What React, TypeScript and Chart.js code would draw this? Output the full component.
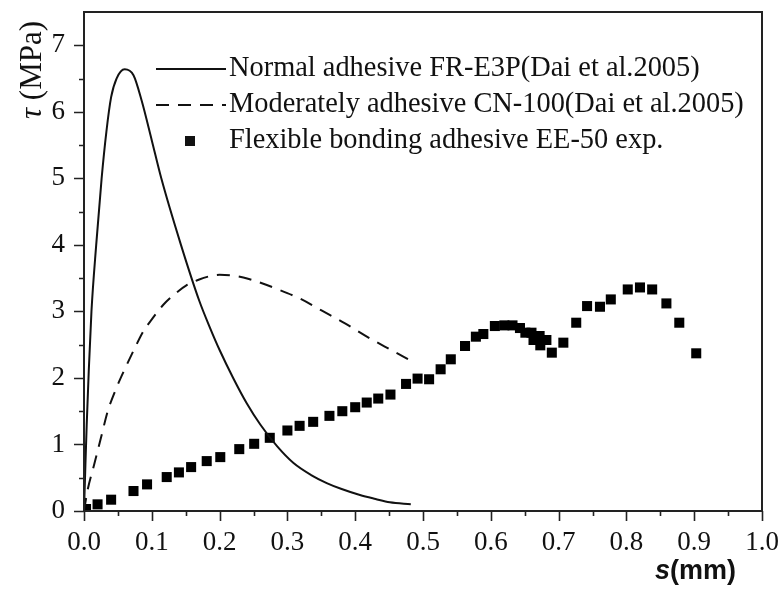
import React, { useEffect, useRef } from "react";
import { Chart, registerables } from "chart.js";

Chart.register(...registerables);

// Normal adhesive FR-E3P (Dai et al. 2005) - solid curve
const normalS = [0, 0.0015, 0.004, 0.007, 0.011, 0.018, 0.026, 0.033, 0.04, 0.048, 0.06, 0.073, 0.085, 0.1, 0.114, 0.143, 0.17, 0.186, 0.2, 0.22, 0.24, 0.26, 0.285, 0.309, 0.335, 0.358, 0.38, 0.407, 0.43, 0.451, 0.482];
const normalTau = [0, 0.5, 1.3, 2.1, 3.0, 4.0, 5.0, 5.7, 6.22, 6.5, 6.64, 6.55, 6.17, 5.57, 5.0, 4.0, 3.16, 2.75, 2.42, 2.0, 1.62, 1.3, 0.97, 0.72, 0.54, 0.42, 0.33, 0.24, 0.18, 0.13, 0.1];

// Moderately adhesive CN-100 (Dai et al. 2005) - dashed curve
const moderateS = [0, 0.005, 0.015, 0.025, 0.035, 0.047, 0.06, 0.075, 0.0875, 0.1, 0.117, 0.135, 0.151, 0.17, 0.186, 0.2, 0.218, 0.235, 0.252, 0.284, 0.319, 0.351, 0.385, 0.419, 0.451, 0.48];
const moderateTau = [0, 0.3, 0.7, 1.1, 1.5, 1.83, 2.13, 2.45, 2.7, 2.88, 3.1, 3.27, 3.39, 3.48, 3.53, 3.55, 3.54, 3.51, 3.46, 3.34, 3.19, 3.01, 2.82, 2.61, 2.43, 2.27];

// Flexible bonding adhesive EE-50 exp. - squares
const flexS = [0.003, 0.02, 0.04, 0.073, 0.093, 0.122, 0.14, 0.158, 0.181, 0.201, 0.229, 0.251, 0.274, 0.3, 0.318, 0.338, 0.362, 0.381, 0.4, 0.417, 0.434, 0.452, 0.475, 0.492, 0.509, 0.526, 0.541, 0.562, 0.578, 0.589, 0.606, 0.62, 0.632, 0.643, 0.651, 0.66, 0.663, 0.672, 0.673, 0.682, 0.69, 0.707, 0.726, 0.742, 0.761, 0.777, 0.802, 0.82, 0.838, 0.859, 0.878, 0.903];
const flexTau = [0.03, 0.1, 0.17, 0.3, 0.4, 0.51, 0.58, 0.66, 0.75, 0.81, 0.93, 1.01, 1.1, 1.21, 1.28, 1.34, 1.43, 1.5, 1.56, 1.63, 1.69, 1.75, 1.91, 1.99, 1.98, 2.13, 2.28, 2.48, 2.62, 2.66, 2.78, 2.79, 2.79, 2.75, 2.68, 2.68, 2.57, 2.63, 2.49, 2.57, 2.38, 2.53, 2.83, 3.08, 3.07, 3.18, 3.33, 3.36, 3.33, 3.12, 2.83, 2.37];

const xTicks = [0, 0.1, 0.2, 0.3, 0.4, 0.5, 0.6, 0.7, 0.8, 0.9, 1.0];
const yTicks = [0, 1, 2, 3, 4, 5, 6, 7];

const legendLabels = [
  "Normal adhesive FR-E3P(Dai et al.2005)",
  "Moderately adhesive CN-100(Dai et al.2005)",
  "Flexible bonding adhesive EE-50 exp.",
];

const SERIF = "'Liberation Serif', 'Times New Roman', serif";
const SANS = "'Liberation Sans', Arial, sans-serif";

const zip = (xs: number[], ys: number[]) => xs.map((x, i) => ({ x, y: ys[i] }));

const framePlugin = {
  id: "frameTicks",
  afterDraw(chart: any) {
    const { ctx, chartArea } = chart;
    const xs = chart.scales.x;
    const ys = chart.scales.y;
    ctx.save();
    ctx.strokeStyle = "#222";
    ctx.lineWidth = 2;
    ctx.strokeRect(chartArea.left, chartArea.top, chartArea.right - chartArea.left, chartArea.bottom - chartArea.top);
    ctx.lineWidth = 1.6;
    ctx.beginPath();
    for (let i = 0; i <= 20; i++) {
      const v = i * 0.05;
      const px = Math.round(xs.getPixelForValue(v)) + 0.5;
      const len = i % 2 === 0 ? 10 : 5;
      ctx.moveTo(px, chartArea.bottom);
      ctx.lineTo(px, chartArea.bottom + len);
    }
    for (let i = 0; i <= 14; i++) {
      const v = i * 0.5;
      const py = Math.round(ys.getPixelForValue(v)) + 0.5;
      const len = i % 2 === 0 ? 10 : 5;
      ctx.moveTo(chartArea.left, py);
      ctx.lineTo(chartArea.left - len, py);
    }
    ctx.stroke();

    // y title
    ctx.fillStyle = "#111";
    ctx.textBaseline = "middle";
    ctx.translate(33, 70);
    ctx.rotate(-Math.PI / 2);
    ctx.font = `italic 31px ${SERIF}`;
    const t1 = "τ";
    const w1 = ctx.measureText(t1).width;
    ctx.font = `31px ${SERIF}`;
    const t2 = " (MPa)";
    const w2 = ctx.measureText(t2).width;
    const start = -(w1 + w2) / 2;
    ctx.font = `italic 31px ${SERIF}`;
    ctx.textAlign = "left";
    ctx.fillText(t1, start, 0);
    ctx.font = `31px ${SERIF}`;
    ctx.fillText(t2, start + w1, 0);
    ctx.setTransform(1, 0, 0, 1, 0, 0);

    // x title
    ctx.textBaseline = "middle";
    ctx.textAlign = "left";
    ctx.font = `italic bold 27px ${SANS}`;
    ctx.fillText("s", 655, 572);
    const ws = ctx.measureText("s").width;
    ctx.font = `bold 27px ${SANS}`;
    ctx.fillText("(mm)", 655 + ws, 572);

    // legend
    const rows = [69, 105, 141];
    ctx.strokeStyle = "#111";
    ctx.lineWidth = 2;
    ctx.beginPath();
    ctx.moveTo(156, rows[0]);
    ctx.lineTo(226, rows[0]);
    ctx.stroke();
    ctx.setLineDash([13, 9]);
    ctx.beginPath();
    ctx.moveTo(156, rows[1]);
    ctx.lineTo(226, rows[1]);
    ctx.stroke();
    ctx.setLineDash([]);
    ctx.fillRect(185, rows[2] - 5, 10, 10);
    ctx.font = `28.4px ${SERIF}`;
    ctx.fillStyle = "#111";
    legendLabels.forEach((l, i) => ctx.fillText(l, 229, rows[i]));
    ctx.restore();
  },
};

export default function App() {
  const ref = useRef<HTMLCanvasElement | null>(null);
  useEffect(() => {
    if (!ref.current) return;
    const chart = new Chart(ref.current, {
      type: "line",
      data: {
        datasets: [
          {
            label: legendLabels[0],
            data: zip(normalS, normalTau),
            borderColor: "#111",
            borderWidth: 2,
            pointRadius: 0,
            tension: 0.4,
            cubicInterpolationMode: "monotone",
            fill: false,
          },
          {
            label: legendLabels[1],
            data: zip(moderateS, moderateTau),
            borderColor: "#111",
            borderWidth: 2,
            borderDash: [13, 9],
            pointRadius: 0,
            tension: 0.4,
            cubicInterpolationMode: "monotone",
            fill: false,
          },
          {
            label: legendLabels[2],
            data: zip(flexS, flexTau),
            showLine: false,
            pointStyle: "rect",
            pointRadius: 7.1,
            pointBorderWidth: 0,
            pointBackgroundColor: "#000",
            borderColor: "#000",
          },
        ],
      } as any,
      options: {
        responsive: false,
        animation: false,
        devicePixelRatio: 1,
        layout: { padding: { top: 12, right: 20, left: 0, bottom: 0 } },
        plugins: { legend: { display: false }, tooltip: { enabled: false } },
        scales: {
          x: {
            type: "linear",
            min: 0,
            max: 1,
            grid: { display: false, drawTicks: false },
            border: { display: false },
            afterBuildTicks: (s: any) => {
              s.ticks = xTicks.map((v) => ({ value: v }));
            },
            afterFit: (s: any) => {
              s.height = 91;
              s.paddingLeft = 0;
              s.paddingRight = 0;
            },
            ticks: {
              padding: 16,
              color: "#111",
              font: { family: SERIF, size: 27 },
              callback: (v: any) => Number(v).toFixed(1),
            },
          },
          y: {
            type: "linear",
            min: 0,
            max: 7.5,
            grid: { display: false, drawTicks: false },
            border: { display: false },
            afterBuildTicks: (s: any) => {
              s.ticks = yTicks.map((v) => ({ value: v }));
            },
            afterFit: (s: any) => {
              s.width = 84;
              s.paddingTop = 0;
              s.paddingBottom = 0;
            },
            ticks: {
              padding: 19,
              color: "#111",
              font: { family: SERIF, size: 27 },
              callback: (v: any) => String(v),
            },
          },
        },
      } as any,
      plugins: [framePlugin],
    });
    return () => chart.destroy();
  }, []);
  return (
    <div style={{ position: "absolute", left: 0, top: 0, width: 782, height: 602, background: "#fff" }}>
      <canvas ref={ref} width={782} height={602} style={{ display: "block" }} />
    </div>
  );
}
